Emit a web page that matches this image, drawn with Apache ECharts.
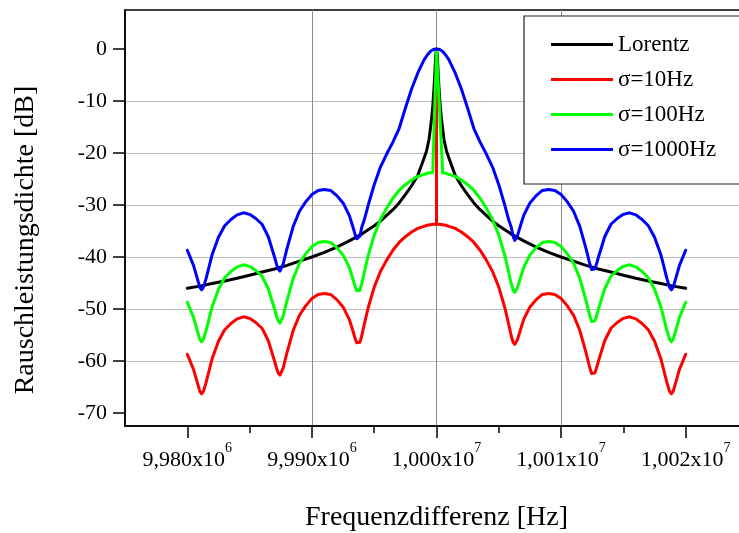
<!DOCTYPE html>
<html><head><meta charset="utf-8">
<script src="https://cdn.jsdelivr.net/npm/echarts@6/dist/echarts.min.js"></script>
<style>html,body{margin:0;padding:0;background:#fff}#c{width:739px;height:533px}</style>
</head><body><div id="c"></div>
<script>
// ---------- data ----------
const seriesNames = ['Lorentz', 'σ=10Hz', 'σ=100Hz', 'σ=1000Hz'];

const freq = [
  9980000, 9980500, 9981000, 9981150, 9981300, 9981500, 9982000, 9982500, 9983000, 9983500,
  9984000, 9984500, 9985000, 9985500, 9986000, 9986500, 9987000, 9987200, 9987300, 9987434,
  9987550, 9987700, 9988000, 9988500, 9989000, 9989500, 9990000, 9990500, 9991000, 9991500,
  9992000, 9992500, 9993000, 9993200, 9993500, 9993600, 9993717, 9993850, 9994000, 9994200,
  9994500, 9995000, 9995500, 9996000, 9996500, 9997000, 9997500, 9998000, 9998500, 9999000,
  9999250, 9999500, 9999750,
  10000000,
  10000250, 10000500, 10000750, 10001000, 10001500, 10002000, 10002500, 10003000, 10003500, 10004000, 10004500,
  10005000, 10005500, 10005800, 10006000, 10006150, 10006283, 10006400, 10006500, 10006800, 10007000,
  10007500, 10008000, 10008500, 10009000, 10009500, 10010000, 10010500, 10011000, 10011500, 10012000,
  10012300, 10012450, 10012566, 10012700, 10012800, 10013000, 10013500, 10014000, 10014500, 10015000,
  10015500, 10016000, 10016500, 10017000, 10017500, 10018000, 10018500, 10018700, 10018850, 10019000,
  10019500, 10020000
];

const sigma10 = [
  -58.7, -61.6, -65.8, -66.3, -65.8, -64.2, -59.5, -56.2, -54.0, -52.8,
  -51.9, -51.5, -51.8, -52.6, -53.7, -56.1, -60.0, -61.7, -62.3, -62.7,
  -62.4, -61.3, -58.4, -54.1, -51.2, -49.4, -48.0, -47.2, -47.0, -47.2,
  -48.2, -49.6, -52.0, -53.5, -55.9, -56.5, -56.8, -56.4, -55.2, -53.0,
  -49.9, -45.8, -42.8, -40.6, -38.7, -37.2, -36.1, -35.2, -34.5, -34.1,
  -33.9, -33.8, -33.7,
  -33.7,
  -33.7, -33.8, -33.9, -34.1, -34.5, -35.2, -36.1, -37.2, -38.7, -40.6, -42.8,
  -45.8, -49.9, -53.0, -55.2, -56.4, -56.8, -56.5, -55.9, -53.5, -52.0,
  -49.6, -48.2, -47.2, -47.0, -47.2, -48.0, -49.4, -51.2, -54.1, -58.4,
  -61.3, -62.4, -62.7, -62.3, -61.7, -60.0, -56.1, -53.7, -52.6, -51.8,
  -51.5, -51.9, -52.8, -54.0, -56.2, -59.5, -64.2, -65.8, -66.3, -65.8,
  -61.6, -58.7
];

const sigma100 = [
  -48.7, -51.6, -55.8, -56.3, -55.8, -54.2, -49.5, -46.2, -44.0, -42.8,
  -41.9, -41.5, -41.8, -42.6, -43.7, -46.1, -50.0, -51.7, -52.3, -52.7,
  -52.4, -51.3, -48.4, -44.1, -41.2, -39.4, -38.0, -37.2, -37.0, -37.2,
  -38.2, -39.6, -42.0, -43.5, -45.9, -46.5, -46.8, -46.4, -45.2, -43.0,
  -39.9, -35.8, -32.8, -30.6, -28.7, -27.2, -26.1, -25.2, -24.5, -24.1,
  -23.9, -23.8, null,
  null,
  null, -23.8, -23.9, -24.1, -24.5, -25.2, -26.1, -27.2, -28.7, -30.6, -32.8,
  -35.8, -39.9, -43.0, -45.2, -46.4, -46.8, -46.5, -45.9, -43.5, -42.0,
  -39.6, -38.2, -37.2, -37.0, -37.2, -38.0, -39.4, -41.2, -44.1, -48.4,
  -51.3, -52.4, -52.7, -52.3, -51.7, -50.0, -46.1, -43.7, -42.6, -41.8,
  -41.5, -41.9, -42.8, -44.0, -46.2, -49.5, -54.2, -55.8, -56.3, -55.8,
  -51.6, -48.7
];

const sigma1000 = [
  -38.7, -41.6, -45.8, -46.3, -45.8, -44.2, -39.5, -36.2, -34.0, -32.8,
  -31.9, -31.5, -31.8, -32.6, -33.7, -36.1, -40.0, -41.7, -42.3, -42.7,
  -42.4, -41.3, -38.4, -34.1, -31.2, -29.4, -28.0, -27.2, -27.0, -27.2,
  -28.2, -29.6, -32.0, -33.5, -35.9, -36.5, -36.8, -36.0, -34.3, -32.9,
  -30.2, -26.1, -22.7, -20.2, -17.9, -15.3, -11.4, -7.7, -4.6, -2.1,
  -1.2, -0.5, -0.1,
  0.0,
  -0.1, -0.5, -1.2, -2.1, -4.6, -7.7, -11.4, -15.3, -17.9, -20.2, -22.7,
  -26.1, -30.2, -32.9, -34.3, -36.0, -36.8, -36.5, -35.9, -33.5, -32.0,
  -29.6, -28.2, -27.2, -27.0, -27.2, -28.0, -29.4, -31.2, -34.1, -38.4,
  -41.3, -42.4, -42.7, -42.3, -41.7, -40.0, -36.1, -33.7, -32.6, -31.8,
  -31.5, -31.9, -32.8, -34.0, -36.2, -39.5, -44.2, -45.8, -46.3, -45.8,
  -41.6, -38.7
];

const lorentzFreq = [
  9980000, 9981000, 9982000, 9983000, 9984000, 9985000, 9986000, 9987000, 9988000, 9989000,
  9990000, 9991000, 9992000, 9993000, 9994000, 9995000, 9995500, 9996000, 9996500, 9997000,
  9997500, 9998000, 9998500, 9999000, 9999200, 9999400, 9999500, 9999600, 9999700, 9999800,
  9999850, 9999900, 9999950,
  10000000,
  10000050, 10000100, 10000150, 10000200, 10000300, 10000400, 10000500, 10000600, 10000800, 10001000,
  10001500, 10002000, 10002500, 10003000, 10003500, 10004000, 10004500, 10005000, 10006000, 10007000,
  10008000, 10009000, 10010000, 10011000, 10012000, 10013000, 10014000, 10015000, 10016000, 10017000,
  10018000, 10019000, 10020000
];
const lorentz = [
  -46.0, -45.6, -45.1, -44.6, -44.1, -43.5, -42.9, -42.3, -41.6, -40.8,
  -40.0, -39.1, -38.1, -36.9, -35.6, -34.0, -33.1, -32.0, -30.9, -29.6,
  -28.0, -26.3, -24.3, -21.0, -19.6, -17.4, -15.5, -13.5, -11.0, -7.5,
  -5.3, -3.0, -1.0,
  0.0,
  -1.0, -3.0, -5.3, -7.5, -11.0, -13.5, -15.5, -17.4, -19.6, -21.0,
  -24.3, -26.3, -28.0, -29.6, -30.9, -32.0, -33.1, -34.0, -35.6, -36.9,
  -38.1, -39.1, -40.0, -40.8, -41.6, -42.3, -42.9, -43.5, -44.1, -44.6,
  -45.1, -45.6, -46.0
];

// narrow central peaks
const sigma10PeakFreq = [10000000, 10000000];
const sigma10Peak = [-33.7, 0.0];
const sigma100PeakFreq = [9999500, 9999700, 10000000, 10000500];
const sigma100Peak = [-23.8, -23.8, 0.0, -23.8];

// axes
const xTickValues = [9980000, 9990000, 10000000, 10010000, 10020000];
const xTickMant = ['9,980', '9,990', '1,000', '1,001', '1,002'];
const xTickExp = ['6', '6', '7', '7', '7'];
const yTickValues = [-70, -60, -50, -40, -30, -20, -10, 0];

// ---------- chart ----------
function pairs(xs, ys) { return xs.map((x, i) => [x, ys[i]]); }
const FONT = '"Liberation Serif", "Times New Roman", serif';
const chart = echarts.init(document.getElementById('c'), null, { renderer: 'canvas' });

const colors = ['#000000', '#ff0000', '#00ff00', '#0000ff'];
function line(name, color, data) {
  return {
    type: 'line', name: name, data: data, smooth: false,
    showSymbol: false, symbol: 'none', silent: true, animation: false,
    connectNulls: false,
    lineStyle: { width: 3, color: color, join: 'round', cap: 'round' }, itemStyle: { color: color },
    emphasis: { disabled: true }
  };
}

const axisBlack = { color: '#000', width: 1.5 };

const option = {
  animation: false,
  backgroundColor: '#fff',
  grid: {
    left: 125, right: -9, top: 10, bottom: 107,
    show: true, borderColor: '#000', borderWidth: 1.5, backgroundColor: '#fff',
    containLabel: false, outerBoundsMode: 'none'
  },
  xAxis: {
    type: 'value', min: 9975000, max: 10025000,
    axisLine: { show: true, onZero: false, lineStyle: axisBlack },
    axisTick: { show: true, inside: false, length: 12, customValues: xTickValues, lineStyle: axisBlack },
    minorTick: { show: true, splitNumber: 2, length: 7, lineStyle: axisBlack },
    splitLine: { show: true, showMinLine: false, showMaxLine: false, lineStyle: { color: '#8c8c8c', width: 1 } },
    axisLabel: {
      customValues: xTickValues, margin: 15,
      formatter: function (v) {
        const i = xTickValues.indexOf(v);
        return i < 0 ? '' : '{m|' + xTickMant[i] + 'x10}{s|' + xTickExp[i] + '}';
      },
      rich: {
        m: { fontFamily: FONT, fontSize: 22, color: '#000', padding: [8, 0, 0, 0] },
        s: { fontFamily: FONT, fontSize: 14, color: '#000', verticalAlign: 'top' }
      }
    },
    name: 'Frequenzdifferenz [Hz]', nameLocation: 'middle', nameGap: 78,
    nameTextStyle: { fontFamily: FONT, fontSize: 28, color: '#000' }
  },
  yAxis: {
    type: 'value', min: -72.5, max: 7.5,
    axisLine: { show: true, onZero: false, lineStyle: axisBlack },
    axisTick: { show: true, inside: false, length: 12, customValues: yTickValues, lineStyle: axisBlack },
    minorTick: { show: true, splitNumber: 2, length: 6, lineStyle: axisBlack },
    splitLine: { show: true, showMinLine: false, showMaxLine: false, lineStyle: { color: '#bdbdbd', width: 1.2 } },
    axisLabel: {
      customValues: yTickValues, margin: 18,
      fontFamily: FONT, fontSize: 22, color: '#000'
    },
    name: 'Rauschleistungsdichte [dB]', nameLocation: 'middle', nameGap: 85, nameRotate: 90,
    nameTextStyle: { fontFamily: FONT, fontSize: 28, color: '#000', padding: [0, 44, 0, 0] }
  },
  legend: {
    data: seriesNames, orient: 'vertical', left: 524, top: 16,
    padding: [17, 200, 23, 27], itemGap: 12, itemWidth: 62, itemHeight: 3, icon: 'rect',
    backgroundColor: '#fff', borderColor: '#222', borderWidth: 1.2, borderRadius: 0,
    selectedMode: false,
    textStyle: { fontFamily: FONT, fontSize: 23, color: '#000' }
  },
  series: [
    line(seriesNames[0], colors[0], pairs(lorentzFreq, lorentz)),
    line(seriesNames[1], colors[1], pairs(freq, sigma10)),
    line(seriesNames[1], colors[1], pairs(sigma10PeakFreq, sigma10Peak)),
    line(seriesNames[2], colors[2], pairs(freq, sigma100)),
    line(seriesNames[2], colors[2], pairs(sigma100PeakFreq, sigma100Peak)),
    line(seriesNames[3], colors[3], pairs(freq, sigma1000))
  ]
};
chart.setOption(option);
</script>
</body></html>
